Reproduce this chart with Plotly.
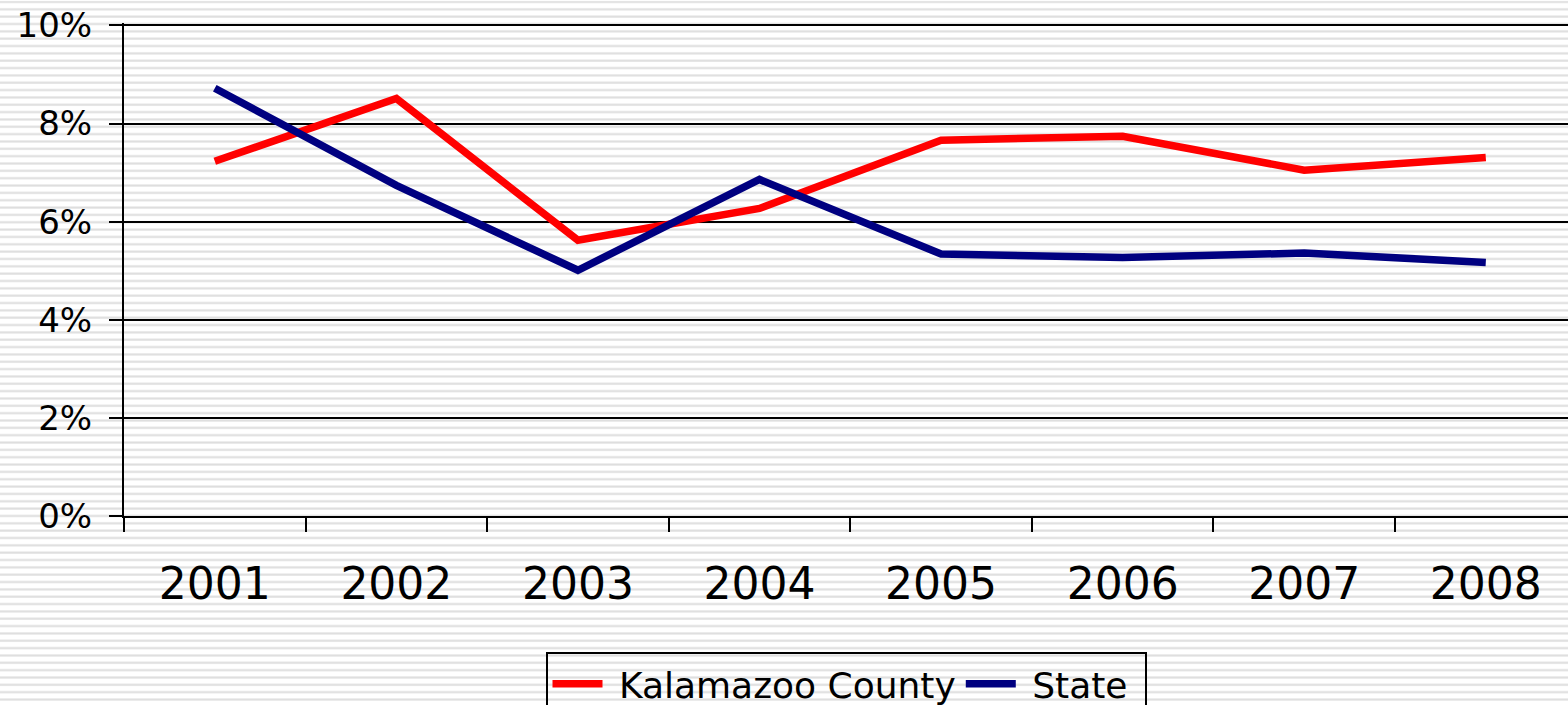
import base64
import plotly.graph_objects as go

years = ["2001", "2002", "2003", "2004", "2005", "2006", "2007", "2008"]
kalamazoo = [7.23, 8.51, 5.62, 6.27, 7.66, 7.74, 7.05, 7.31]
state = [8.72, 6.74, 5.01, 6.86, 5.34, 5.27, 5.36, 5.17]
y_ticks = [0, 2, 4, 6, 8, 10]
y_tick_labels = ["0%", "2%", "4%", "6%", "8%", "10%"]

W, H = 1568, 705
ML, MR, MT, MB = 124, 0, 22.5, 189
PW, PH = W - ML - MR, H - MT - MB
CAT_PX = 181.57  # pixel width of one category in the reference

svg = (
    f'<svg xmlns="http://www.w3.org/2000/svg" width="{W}" height="{H}">'
    '<defs><pattern id="p" width="10" height="7.35" patternUnits="userSpaceOnUse">'
    '<rect x="0" y="0" width="10" height="7.35" fill="#ffffff"/>'
    '<rect x="0" y="0.4" width="10" height="2.1" fill="#dedede"/>'
    '</pattern></defs>'
    f'<rect width="{W}" height="{H}" fill="url(#p)"/></svg>'
)
src = "data:image/svg+xml;base64," + base64.b64encode(svg.encode()).decode()

fig = go.Figure()
fig.add_trace(go.Scatter(x=years, y=kalamazoo, mode="lines", name="\u00a0Kalamazoo County",
                         line=dict(color="#FF0000", width=7.5)))
fig.add_trace(go.Scatter(x=years, y=state, mode="lines", name="\u00a0State\u00a0",
                         line=dict(color="#000080", width=7.5)))

fig.update_layout(
    width=W, height=H,
    margin=dict(l=ML, r=MR, t=MT, b=MB, pad=0, autoexpand=False),
    paper_bgcolor="white",
    plot_bgcolor="rgba(0,0,0,0)",
    font=dict(family="DejaVu Sans", color="black"),
    images=[dict(source=src, xref="paper", yref="paper",
                 x=-ML / PW, y=1 + MT / PH, sizex=W / PW, sizey=H / PH,
                 xanchor="left", yanchor="top", sizing="stretch", layer="below")],
    xaxis=dict(type="category", range=[-0.5, -0.5 + PW / CAT_PX], automargin=False,
               tickson="boundaries", ticks="outside", ticklen=14, tickwidth=2,
               tickcolor="black", showline=True, linecolor="black", linewidth=2,
               showgrid=False, tickfont=dict(size=44), ticklabelstandoff=28),
    yaxis=dict(range=[0, 10.05], tickvals=y_ticks, ticktext=y_tick_labels,
               automargin=False,
               ticks="outside", ticklen=13, tickwidth=2, tickcolor="black",
               showline=True, linecolor="black", linewidth=2,
               showgrid=True, gridcolor="black", gridwidth=2,
               zeroline=False, tickfont=dict(size=34), ticklabelstandoff=10,
               ticklabeloverflow="allow"),
    legend=dict(orientation="h", x=0.5, xanchor="center",
                y=-(652 - (H - MB)) / PH, yanchor="top",
                xref="paper", yref="paper",
                font=dict(size=36), bordercolor="black", borderwidth=2,
                bgcolor="rgba(0,0,0,0)", itemwidth=50, tracegroupgap=0),
    showlegend=True,
)

fig.write_html("out.html", config={"displayModeBar": False},
               post_script="document.body.style.margin='0px';")
